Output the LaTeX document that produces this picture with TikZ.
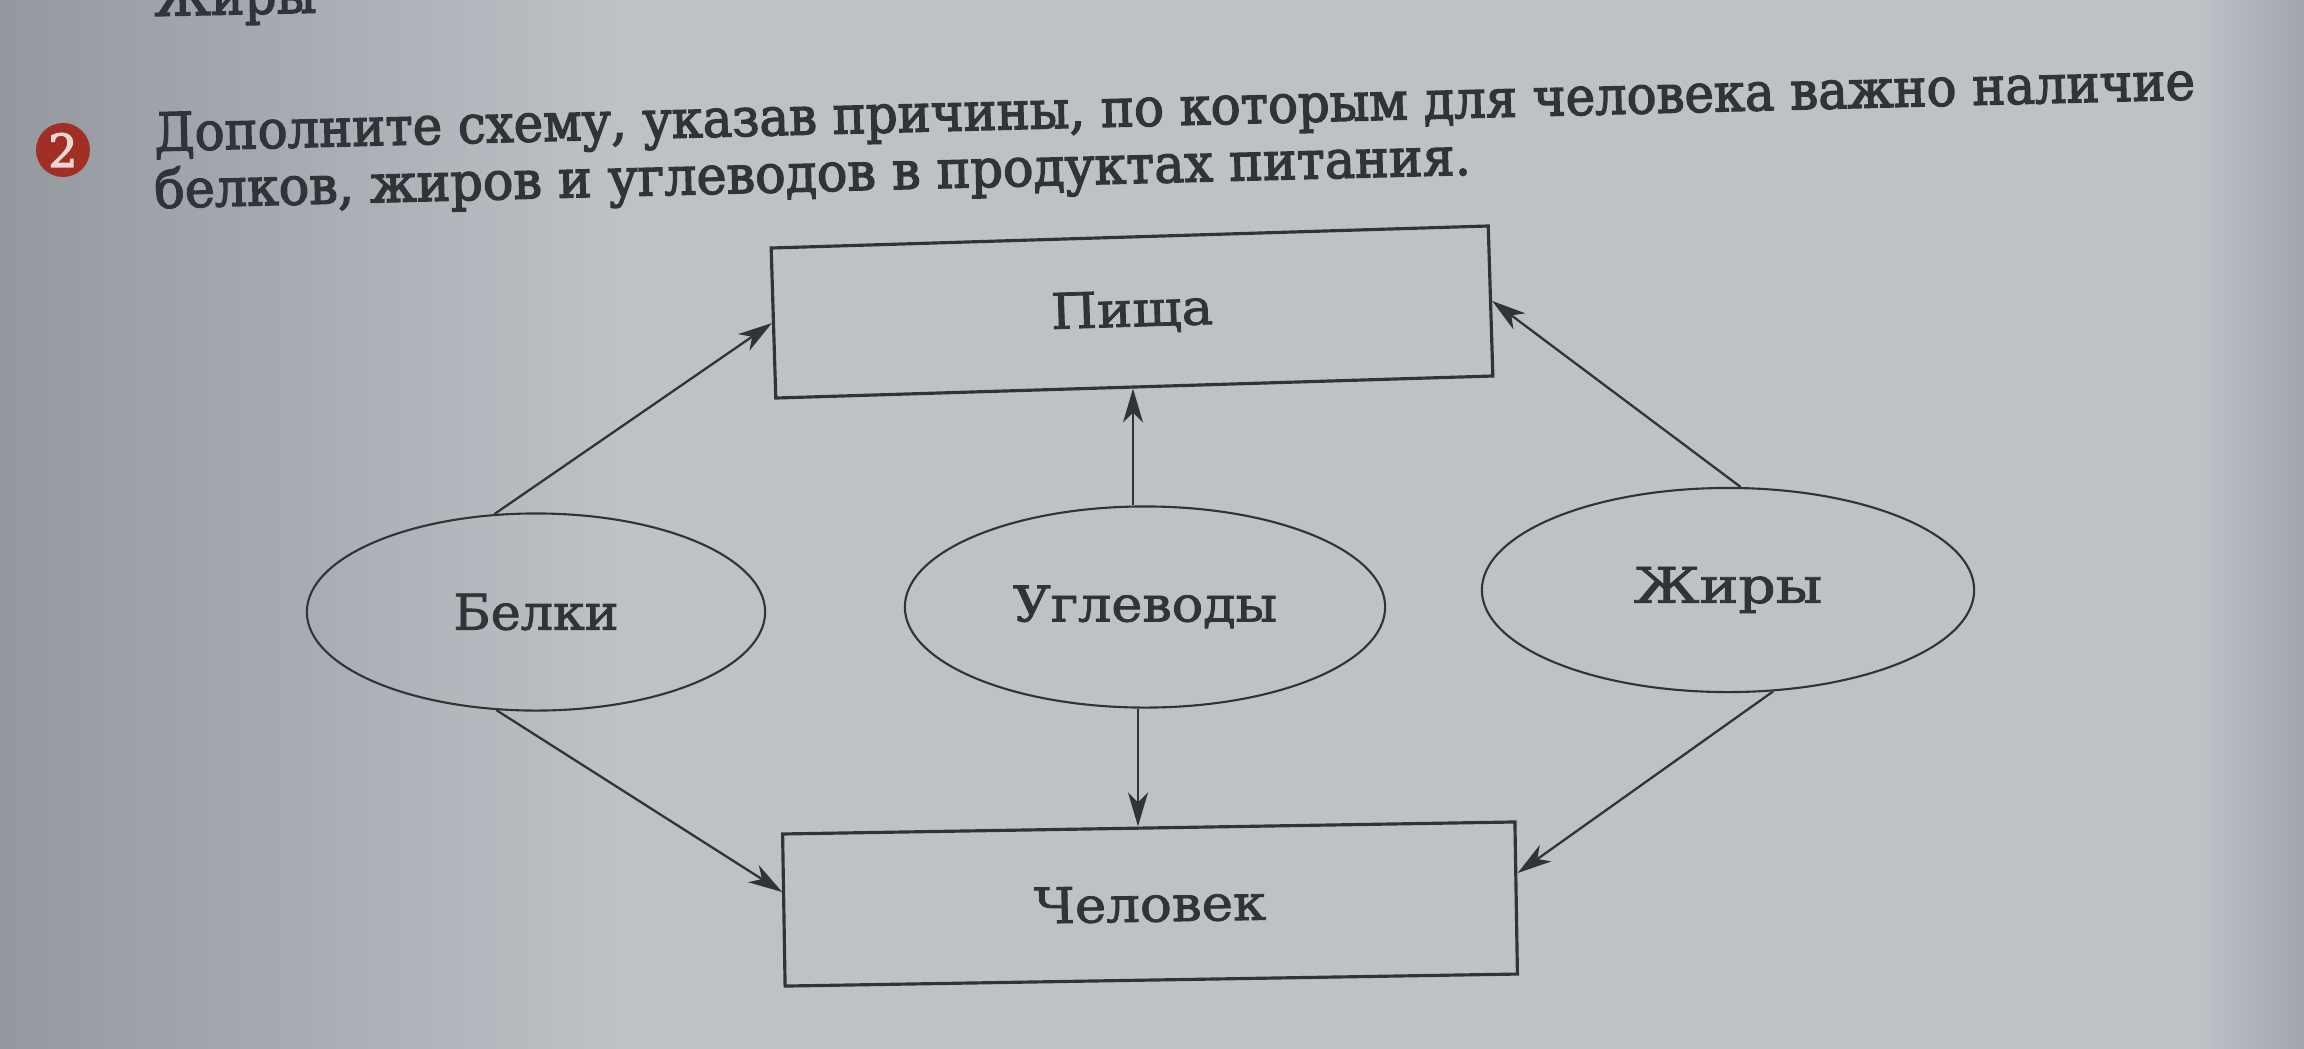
\documentclass[tikz,border=0pt]{standalone}
\usepackage{fontspec}
\setmainfont{DejaVu Serif}
\newfontfamily\labelfont[FakeBold=1.6]{DejaVu Serif}
\newfontfamily\headfont[FakeBold=2.6]{DejaVu Serif}
\usetikzlibrary{shapes.geometric,arrows.meta}
\definecolor{ink}{RGB}{50,51,56}
\definecolor{bgL}{RGB}{146,151,158}
\definecolor{bgR}{RGB}{190,193,198}
\definecolor{bgE}{RGB}{156,160,170}
\definecolor{numred}{RGB}{160,48,38}
\begin{document}
\begin{tikzpicture}[x=0.01cm,y=-0.01cm,
  lbl/.style={font=\labelfont\fontsize{14}{16}\selectfont,text=ink},
  boxnode/.style={draw=ink,line width=0.9pt,inner sep=0pt,minimum height=1.52cm,lbl},
  oval/.style={ellipse,draw=ink,line width=0.6pt,inner sep=0pt,lbl},
  arr/.style={draw=ink,line width=0.65pt,-{Stealth[length=0.34cm,width=0.2cm,inset=0.1cm]}},
  head/.style={anchor=base west,inner sep=0pt,text=ink,font=\headfont\fontsize{15}{17}\selectfont,rotate=1.45}]
\useasboundingbox (0,0) rectangle (2304,1048);
\clip (0,0) rectangle (2304,1048);
% background (paper)
\fill[bgR] (-20,-20) rectangle (2324,1068);
\shade[left color=bgL,right color=bgR] (-20,-20) rectangle (620,1068);
\shade[left color=bgR,right color=bgE] (2200,-20) rectangle (2324,1068);
% cut text at top
\node[head,rotate=-0.25] (prev) at (154,16) {\resizebox{1.62cm}{\height}{Жиры}};
% task number
\node[circle,fill=numred,minimum size=0.54cm,inner sep=0pt,text=white!80!numred,font=\headfont\fontsize{13}{15}\selectfont] (num) at (63,150) {2};
% heading
\node[head] (h1) at (154,151) {\resizebox{20.4cm}{\height}{Дополните схему, указав причины, по которым для человека важно наличие}};
\node[head] (h2) at (154,208) {\resizebox{13.16cm}{\height}{белков, жиров и углеводов в продуктах питания.}};
% boxes
\node[boxnode,minimum width=7.17cm,minimum height=1.50cm,rotate=1.76] (food) at (1132,312) {\resizebox{1.62cm}{\height}{Пища}};
\node[boxnode,minimum width=7.32cm,rotate=0.94] (man) at (1150,904) {\resizebox{2.32cm}{\height}{Человек}};
% ellipses
\node[oval,minimum width=4.58cm,minimum height=1.97cm] (prot) at (536,612) {\resizebox{1.65cm}{\height}{Белки}};
\node[oval,minimum width=4.80cm,minimum height=2.01cm] (carb) at (1145,607) {\raisebox{0.07cm}{\resizebox{2.64cm}{\height}{Углеводы}}};
\node[oval,minimum width=4.92cm,minimum height=2.04cm] (fat) at (1728,590) {\raisebox{0.04cm}{\resizebox{1.88cm}{\height}{Жиры}}};
% connectors
\draw[arr] (prot.113) -- (food.west);
\draw[arr] (prot.248) -- ([yshift=0.18cm]man.west);
\draw[arr] ([xshift=-0.12cm]carb.north) -- ([xshift=-0.12cm]carb.north |- food.south);
\draw[arr] ([xshift=-0.07cm]carb.south) -- ([xshift=-0.07cm]carb.south |- man.north);
\draw[arr] (fat.83) -- (food.east);
\draw[arr] (fat.294) -- ([yshift=0.25cm]man.east);
\end{tikzpicture}
\end{document}
